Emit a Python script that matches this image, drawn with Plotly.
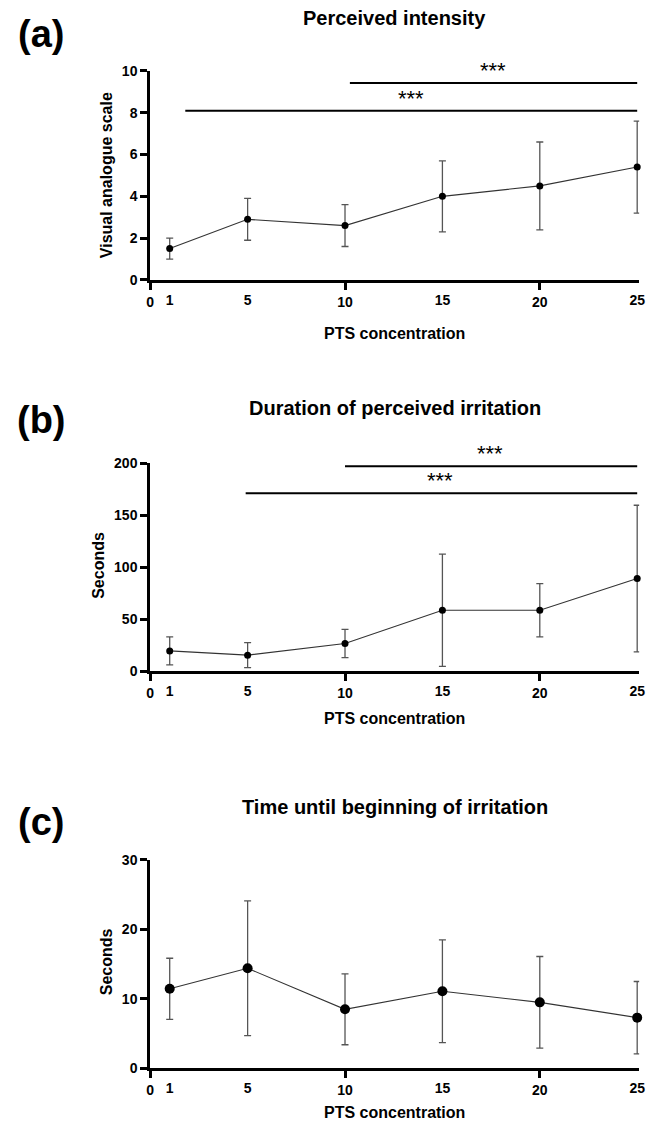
import plotly.graph_objects as go

# ---------------- data ----------------
conc = [1, 5, 10, 15, 20, 25]
x_major_vals = [0, 10, 20]          # labelled + tick mark
x_extra_vals = [1, 5, 15, 25]       # labelled, no tick mark

vas_mean = [1.5, 2.9, 2.6, 4.0, 4.5, 5.4]
vas_sd = [0.5, 1.0, 1.0, 1.7, 2.1, 2.2]
vas_ticks = [0, 2, 4, 6, 8, 10]

dur_mean = [19.5, 15.4, 26.6, 58.6, 58.6, 89.0]
dur_sd = [13.5, 12.0, 13.6, 54.0, 25.6, 70.5]
dur_ticks = [0, 50, 100, 150, 200]

onset_mean = [11.45, 14.4, 8.5, 11.1, 9.5, 7.3]
onset_sd = [4.4, 9.7, 5.1, 7.4, 6.6, 5.2]
onset_ticks = [0, 10, 20, 30]

# significance bars: start x, end x, bar y, label x, label
sig_a_x0 = [1.8, 10.25]
sig_a_x1 = [25, 25]
sig_a_y = [8.1, 9.42]
sig_a_lx = [13.4, 17.6]
sig_a_txt = ["***", "***"]

sig_b_x0 = [4.9, 10.0]
sig_b_x1 = [25, 25]
sig_b_y = [171, 197]
sig_b_lx = [14.9, 17.45]
sig_b_txt = ["***", "***"]

panel_letters = ["(a)", "(b)", "(c)"]
panel_titles = ["Perceived intensity", "Duration of perceived irritation",
                "Time until beginning of irritation"]
y_titles = ["Visual analogue scale", "Seconds", "Seconds"]
x_title = "PTS concentration"

# ---------------- layout geometry ----------------
W, H = 654, 1124
FONT = "Liberation Sans, Arial, sans-serif"


def py(pix):
    pix = (pix - 7.0) / 0.987
    return 1 - pix / H


def px(pix):
    return pix / W


x_dom = [px(148.5), px(645)]
x_range = [0, 25.1]
y_doms = [[py(279.3), py(70)], [py(671), py(462.7)], [py(1068.7), py(860)]]
y_ranges = [[0, 10], [0, 200], [0, 30]]
y_tickvals = [vas_ticks, dur_ticks, onset_ticks]
means = [vas_mean, dur_mean, onset_mean]
sds = [vas_sd, dur_sd, onset_sd]
msizes = [7, 7, 10]

letter_y = [33, 420, 822]
title_y = [17, 408, 807]
ytitle_x = [104, 96, 104]
ytitle_y = [174, 565, 962]
xtitle_y = [333, 718, 1113]

tickfont = dict(family=FONT, size=14, color="black", weight="bold")

fig = go.Figure()
layout_axes = {}
annotations = []
shapes = []

for i in range(3):
    xa = "x" if i == 0 else f"x{i+1}"
    ya = "y" if i == 0 else f"y{i+1}"
    xo = f"x{i+4}"  # overlay axis carrying the labels without tick marks
    # invisible carrier so the overlay axis is drawn
    fig.add_trace(go.Scatter(
        x=conc, y=means[i], mode="markers",
        marker=dict(size=1, opacity=0), hoverinfo="skip",
        showlegend=False, xaxis=xo, yaxis=ya,
    ))
    fig.add_trace(go.Scatter(
        x=conc, y=means[i],
        mode="lines+markers",
        line=dict(color="#333333", width=1.1),
        marker=dict(color="black", size=msizes[i]),
        error_y=dict(type="data", array=sds[i], visible=True,
                     color="#555555", thickness=1.3, width=3.5),
        cliponaxis=False,
        showlegend=False,
        xaxis=xa, yaxis=ya,
    ))
    xkey = "xaxis" if i == 0 else f"xaxis{i+1}"
    ykey = "yaxis" if i == 0 else f"yaxis{i+1}"
    layout_axes[xkey] = dict(
        domain=x_dom, anchor=ya, range=x_range,
        showline=True, linewidth=3, linecolor="black",
        showgrid=False, zeroline=False,
        tickmode="array", tickvals=x_major_vals,
        ticktext=[str(v) for v in x_major_vals],
        ticks="outside", ticklen=7, tickwidth=3, tickcolor="black",
        tickfont=tickfont, fixedrange=True,
    )
    layout_axes[f"xaxis{i+4}"] = dict(
        domain=x_dom, anchor=ya, overlaying=xa, side="bottom", range=x_range,
        showline=False, showgrid=False, zeroline=False,
        tickmode="array", tickvals=x_extra_vals,
        ticktext=[str(v) for v in x_extra_vals],
        ticks="outside", ticklen=7, tickwidth=3, tickcolor="rgba(0,0,0,0)",
        tickfont=tickfont, fixedrange=True,
    )
    layout_axes[ykey] = dict(
        domain=y_doms[i], anchor=xa, range=y_ranges[i],
        showline=True, linewidth=3, linecolor="black",
        showgrid=False, zeroline=False,
        tickmode="array", tickvals=y_tickvals[i],
        ticks="outside", ticklen=7, tickwidth=3, tickcolor="black",
        tickfont=tickfont, fixedrange=True,
    )
    annotations.append(dict(
        text=panel_letters[i], xref="paper", yref="paper",
        x=px(38), y=py(letter_y[i]), xanchor="center", yanchor="middle",
        showarrow=False, font=dict(family=FONT, size=38, color="black", weight="bold")))
    annotations.append(dict(
        text=panel_titles[i], xref="paper", yref="paper",
        x=px(397), y=py(title_y[i]), xanchor="center", yanchor="middle",
        showarrow=False, font=dict(family=FONT, size=20, color="black", weight="bold")))
    annotations.append(dict(
        text=y_titles[i], xref="paper", yref="paper", textangle=-90,
        x=px(ytitle_x[i]), y=py(ytitle_y[i]), xanchor="center", yanchor="middle",
        showarrow=False, font=dict(family=FONT, size=16, color="black", weight="bold")))
    annotations.append(dict(
        text=x_title, xref="paper", yref="paper",
        x=px(397), y=py(xtitle_y[i]), xanchor="center", yanchor="middle",
        showarrow=False, font=dict(family=FONT, size=16, color="black", weight="bold")))

sig_sets = [
    ("x", "y", sig_a_x0, sig_a_x1, sig_a_y, sig_a_lx, sig_a_txt),
    ("x2", "y2", sig_b_x0, sig_b_x1, sig_b_y, sig_b_lx, sig_b_txt),
]
for xa, ya, x0s, x1s, ys, lxs, txts in sig_sets:
    for x0, x1, yv, lx, t in zip(x0s, x1s, ys, lxs, txts):
        shapes.append(dict(type="line", xref=xa, yref=ya, x0=x0, x1=x1, y0=yv, y1=yv,
                           line=dict(color="black", width=2)))
        annotations.append(dict(
            text=t, xref=xa, yref=ya, x=lx, y=yv, xanchor="center", yanchor="bottom",
            yshift=-2, showarrow=False,
            font=dict(family=FONT, size=22, color="black")))

fig.update_layout(
    width=W, height=H,
    margin=dict(l=0, r=0, t=0, b=0),
    paper_bgcolor="white", plot_bgcolor="white",
    annotations=annotations, shapes=shapes,
    **layout_axes,
)

post = (
    "document.documentElement.style.margin='0';"
    "document.documentElement.style.padding='0';"
    "document.documentElement.style.overflow='hidden';"
    "document.body.style.margin='0';"
    "document.body.style.padding='0';"
    "document.body.style.overflow='hidden';"
    "var d=document.getElementById('{plot_id}');"
    "d.style.position='fixed';d.style.left='0px';d.style.top='0px';"
)

fig.write_html("out.html", config={"displayModeBar": False}, post_script=post)
